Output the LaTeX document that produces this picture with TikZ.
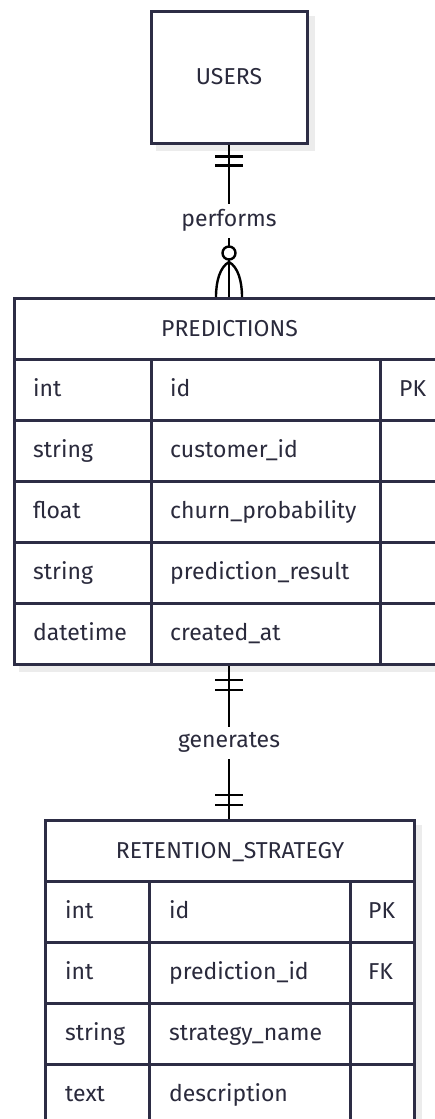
\documentclass[tikz,border=0pt]{standalone}
\usepackage{fontspec}
\setmainfont{Fira Sans}
\usepackage{tikz}
\usetikzlibrary{positioning,backgrounds}

\definecolor{erline}{HTML}{2D2D45}
\definecolor{ertext}{HTML}{2A2A3C}
\definecolor{ershade}{HTML}{ECECEC}
\newcommand{\erfont}{\fontsize{23}{27}\selectfont}

\tikzset{
  entbox/.style={draw=erline, line width=3pt, fill=white, text=ertext, font=\erfont,
    inner sep=0pt, text height=15.5pt, text depth=0pt},
  cellbox/.style={draw=erline, line width=3pt, fill=white, inner sep=0pt,
    minimum height=61pt, anchor=north west},
  attr/.style={text=ertext, font=\erfont, inner sep=0pt, anchor=west,
    text height=13pt, text depth=0pt},
  rel/.style={line width=2.4pt, black},
  rellabel/.style={fill=white, text=ertext, font=\erfont, inner sep=6pt},
}

\begin{document}
\begin{tikzpicture}[x=1pt,y=-1pt]
\useasboundingbox (0,0) rectangle (434,1119);

%users
\node[entbox, minimum width=156pt, minimum height=132pt] (users) at (229,77) {USERS};

%predictions
\node[entbox, minimum width=430pt, minimum height=61pt, anchor=north west] (pred) at (13,297) {PREDICTIONS};
\foreach \ty/\nm/\ky [count=\i] in {int/id/PK, string/customer\_id/{}, float/churn\_probability/{},
    string/prediction\_result/{}, datetime/created\_at/{}}{
  \node[cellbox, minimum width=137pt] (pred-t\i) at (13,297+61*\i) {};
  \node[cellbox, minimum width=229pt] (pred-n\i) at (150,297+61*\i) {};
  \node[cellbox, minimum width=64pt] (pred-k\i) at (379,297+61*\i) {};
  \node[attr] (pred-tt\i) at ([xshift=20pt]pred-t\i.west) {\ty};
  \node[attr] (pred-nt\i) at ([xshift=20pt]pred-n\i.west) {\nm};
  \node[attr] (pred-kt\i) at ([xshift=20pt]pred-k\i.west) {\ky};
}

%retention strategy
\node[entbox, minimum width=369pt, minimum height=61pt, anchor=north west] (ret) at (44,819) {RETENTION\_STRATEGY};
\foreach \ty/\nm/\ky [count=\i] in {int/id/PK, int/prediction\_id/FK, string/strategy\_name/{},
    text/description/{}}{
  \node[cellbox, minimum width=104pt] (ret-t\i) at (44,819+61*\i) {};
  \node[cellbox, minimum width=201pt] (ret-n\i) at (148,819+61*\i) {};
  \node[cellbox, minimum width=64pt] (ret-k\i) at (349,819+61*\i) {};
  \node[attr] (ret-tt\i) at ([xshift=21pt]ret-t\i.west) {\ty};
  \node[attr] (ret-nt\i) at ([xshift=21pt]ret-n\i.west) {\nm};
  \node[attr] (ret-kt\i) at ([xshift=19pt]ret-k\i.west) {\ky};
}

%shadows
\begin{scope}[on background layer]
\fill[ershade] ([shift={(6pt,-6pt)}]users.north west) rectangle ([shift={(6pt,-6pt)}]users.south east);
\fill[ershade] ([shift={(6pt,-6pt)}]pred.north west) rectangle ([shift={(6pt,-6pt)}]pred-k5.south east);
\fill[ershade] ([shift={(6pt,-6pt)}]ret.north west) rectangle ([shift={(6pt,-6pt)}]ret-k4.south east);
\end{scope}

%performs
\coordinate (p1) at (users.south |- pred.north);
\draw[rel] (users.south) -- node[rellabel] (lab-perf) {performs} (p1);
\draw[rel] ([yshift=-12pt]users.south) +(-14,0) -- +(14,0);
\draw[rel] ([yshift=-21pt]users.south) +(-14,0) -- +(14,0);
\draw[rel, fill=white] ([yshift=44pt]p1) circle (6.5pt);
\draw[rel] ([yshift=35pt]p1) .. controls +(-9,5) and +(0,-16) .. ([xshift=-13pt]p1);
\draw[rel] ([yshift=35pt]p1) .. controls +(9,5) and +(0,-16) .. ([xshift=13pt]p1);

%generates
\coordinate (g1) at (users.south |- pred-n5.south);
\coordinate (g2) at (users.south |- ret.north);
\draw[rel] (g1) -- node[rellabel] (lab-gen) {generates} (g2);
\draw[rel] ([yshift=-14pt]g1) +(-14,0) -- +(14,0);
\draw[rel] ([yshift=-24pt]g1) +(-14,0) -- +(14,0);
\draw[rel] ([yshift=24pt]g2) +(-14,0) -- +(14,0);
\draw[rel] ([yshift=14pt]g2) +(-14,0) -- +(14,0);

\end{tikzpicture}
\end{document}
